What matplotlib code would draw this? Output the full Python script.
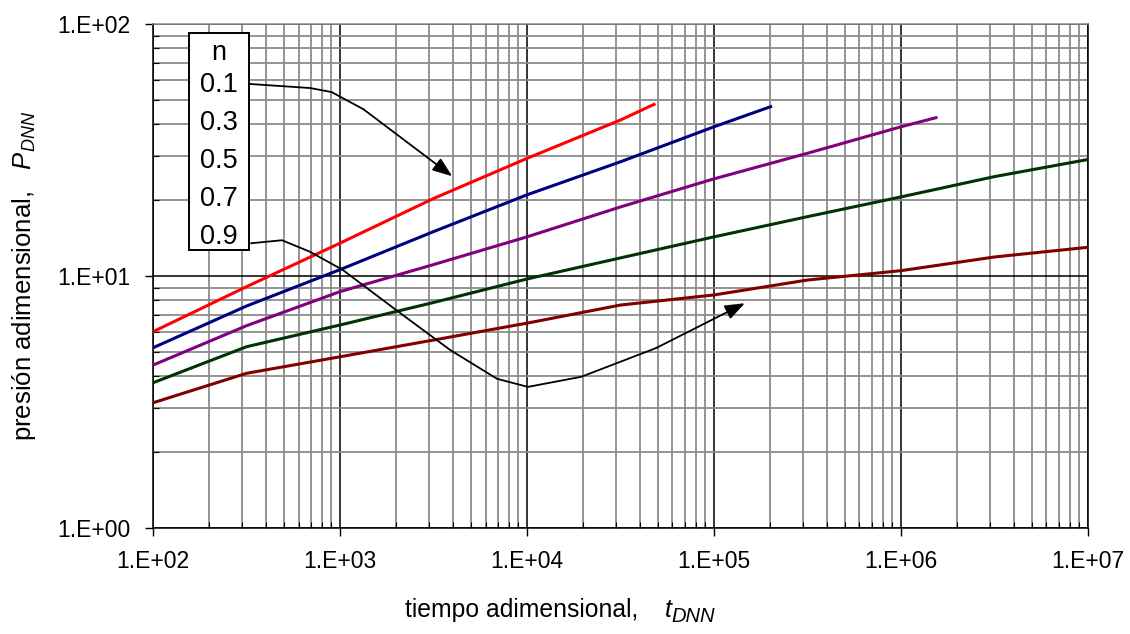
import numpy as np
import matplotlib
matplotlib.use("Agg")
import matplotlib.pyplot as plt
from matplotlib.ticker import LogLocator, FuncFormatter, NullFormatter

plt.rcParams['font.family'] = ['Liberation Sans', 'DejaVu Sans']
plt.rcParams['mathtext.fontset'] = 'custom'
plt.rcParams['mathtext.rm'] = 'Liberation Sans'
plt.rcParams['mathtext.it'] = 'Liberation Sans:italic'

# valores (tDNN, PDNN) para cada n
n_values = ["0.1", "0.3", "0.5", "0.7", "0.9"]
t_grid = [1e2, 10**2.5, 1e3, 10**3.5, 1e4, 10**4.5, 1e5, 10**5.5, 1e6, 10**6.5, 1e7]

t_01 = t_grid[:6] + [4.78e4]
p_01 = [6.01, 9.07, 13.5, 20.3, 29.3, 41.6, 48.0]

t_03 = t_grid[:7] + [2.01e5]
p_03 = [5.19, 7.60, 10.6, 15.0, 21.0, 28.4, 39.1, 47.0]

t_05 = t_grid[:9] + [1.54e6]
p_05 = [4.43, 6.35, 8.67, 11.1, 14.3, 18.8, 24.3, 30.7, 39.1, 42.5]

t_07 = t_grid
p_07 = [3.77, 5.24, 6.39, 7.85, 9.73, 11.8, 14.3, 17.2, 20.6, 24.8, 29.0]

t_09 = t_grid
p_09 = [3.14, 4.11, 4.78, 5.57, 6.50, 7.67, 8.41, 9.64, 10.5, 11.9, 13.0]

colors = ['#ff0000', '#000080', '#800080', '#003300', '#800000']

fig = plt.figure(figsize=(11.3, 6.34), dpi=100)
ax = fig.add_axes([0.1354, 0.1672, 0.8274, 0.7949])

for t, p, c in zip([t_01, t_03, t_05, t_07, t_09],
                   [p_01, p_03, p_05, p_07, p_09], colors):
    ax.plot(t, p, color=c, lw=2.2, zorder=3)

ax.set_xscale('log')
ax.set_yscale('log')
ax.set_xlim(1e2, 1e7)
ax.set_ylim(1e0, 1e2)

ax.xaxis.set_major_locator(LogLocator(base=10, numticks=10))
ax.yaxis.set_major_locator(LogLocator(base=10, numticks=10))
ax.xaxis.set_minor_locator(LogLocator(base=10, subs=np.arange(2, 10), numticks=20))
ax.yaxis.set_minor_locator(LogLocator(base=10, subs=np.arange(2, 10), numticks=20))
fmt = FuncFormatter(lambda v, pos: "1.E+%02d" % int(round(np.log10(v))))
ax.xaxis.set_major_formatter(fmt)
ax.yaxis.set_major_formatter(fmt)
ax.xaxis.set_minor_formatter(NullFormatter())
ax.yaxis.set_minor_formatter(NullFormatter())

ax.grid(True, which='minor', color='#8c8c8c', lw=1.3, zorder=1)
ax.grid(True, which='major', color='black', lw=1.1, zorder=2)
ax.set_axisbelow(True)

ax.tick_params(which='major', direction='out', length=6, width=1, labelsize=16.5, pad=10)
ax.tick_params(which='minor', direction='in', length=4, width=0.8)
for s in ax.spines.values():
    s.set_color('black')
    s.set_linewidth(1.1)
ax.spines['top'].set_color('#8c8c8c')

# titulo eje x armado a mano (subindice mas grande, como en el original)
xl = fig.text(0.3584, 0.0268, 'tiempo adimensional,', fontsize=17.8, va='baseline')
xt = ax.annotate('t', xy=(1, 0), xycoords=xl, xytext=(19, 0), textcoords='offset points',
                 fontsize=18, style='italic', va='bottom', ha='left')
ax.annotate('DNN', xy=(1, 0), xycoords=xt, xytext=(0, -3), textcoords='offset points',
            fontsize=14.5, style='italic', va='bottom', ha='left')

ax.set_ylabel(r'presión adimensional,   $\mathit{P}_{\mathit{DNN}}$', fontsize=18.5, labelpad=14)

# cuadro con los valores de n
box = plt.Rectangle((0.0385, 0.551), 0.0642, 0.4305, transform=ax.transAxes,
                    facecolor='white', edgecolor='black', lw=1.4, zorder=5)
ax.add_patch(box)
ax.text(0.0706, 0.943, "n", transform=ax.transAxes, fontsize=19.5,
        ha='center', va='center', zorder=6)
for i, lab in enumerate(n_values):
    ax.text(0.0706, 0.879 - i * 0.0754, lab, transform=ax.transAxes, fontsize=19.5,
            ha='center', va='center', zorder=6)

# flechas
arr1 = [(0.104, 0.881), (0.168, 0.873), (0.191, 0.865), (0.225, 0.831)]
tip1 = (0.320, 0.698)
arr2 = [(0.105, 0.565), (0.138, 0.571), (0.168, 0.548), (0.203, 0.512), (0.264, 0.427),
        (0.318, 0.353), (0.368, 0.296), (0.401, 0.280), (0.458, 0.300), (0.538, 0.357)]
tip2 = (0.633, 0.446)
for pts, tip in [(arr1, tip1), (arr2, tip2)]:
    xs, ys = zip(*pts)
    ax.plot(xs, ys, color='black', lw=1.3, transform=ax.transAxes, zorder=6, clip_on=False)
    ax.annotate('', xy=tip, xytext=pts[-1], xycoords='axes fraction',
                textcoords='axes fraction',
                arrowprops=dict(arrowstyle='-|>,head_length=1.2,head_width=0.45',
                                color='black', lw=1.3, shrinkA=0, shrinkB=0), zorder=6)

fig.savefig('out.png', dpi=100)
